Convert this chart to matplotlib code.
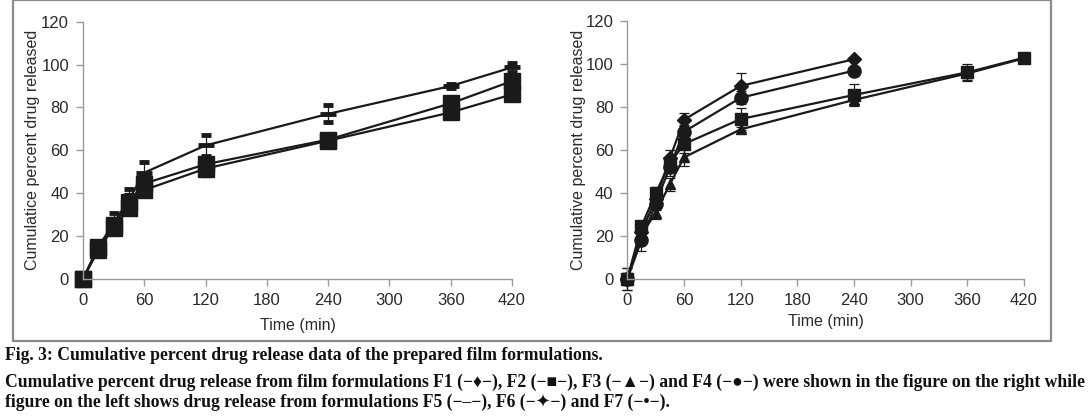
import matplotlib
matplotlib.use("Agg")
import matplotlib.pyplot as plt
from matplotlib.patches import Rectangle

# ---------------- data ----------------
time_left = [0, 15, 30, 45, 60, 120, 240, 360, 420]
f5 = [0, 15, 26, 37, 49.6, 62.3, 77, 90, 98.7]
f5_err = [0, 1, 5, 5, 5, 5, 4, 1, 2]
f6 = [0, 15, 25, 36, 44.5, 53.5, 65, 81.9, 92.3]
f6_err = [0, 1.5, 4, 4, 4, 4, 1, 2, 3]
f7 = [0, 13.5, 24, 33, 41.5, 51.5, 64.5, 77.7, 86.1]
f7_err = [0, 1, 3, 3, 3, 4, 1, 1, 2]

time_short = [0, 15, 30, 45, 60, 120, 240]
time_long = [0, 15, 30, 45, 60, 120, 240, 360, 420]
f1 = [0, 22, 37, 56, 74, 89.7, 102.1]
f1_err = [5, 3, 3, 4, 3, 6, 1]
f4 = [0, 18, 35, 52, 68.4, 84.2, 96.8]
f4_err = [5, 5, 3, 4, 3, 3, 1]
f2 = [0, 24.5, 39.8, 53.7, 62.7, 74.3, 85.5, 96, 102.8]
f2_err = [3, 2, 3, 3, 4, 5, 5, 4, 1]
f3 = [0, 20.5, 30.8, 44, 56.5, 69.5, 83.2, 95.5, 102.5]
f3_err = [3, 3, 3, 3, 4, 1, 2, 3, 1]

x_ticks = [0, 60, 120, 180, 240, 300, 360, 420]
y_ticks = [0, 20, 40, 60, 80, 100, 120]
ylabel_left = "Cumulatice percent drug released"
ylabel_right = "Cumulative percent drug released"
xlabel = "Time (min)"

caption1 = "Fig. 3: Cumulative percent drug release data of the prepared film formulations."
caption2 = ("Cumulative percent drug release from film formulations F1 (\u2212\u2666\u2212), F2 (\u2212\u25a0\u2212), "
            "F3 (\u2212\u25b2\u2212) and F4 (\u2212\u25cf\u2212) were shown in the figure on the right while")
caption3 = ("figure on the left shows drug release from formulations F5 (\u2212\u2013\u2212), "
            "F6 (\u2212\u2726\u2212) and F7 (\u2212\u2022\u2212).")

# ---------------- figure ----------------
W, H = 1088, 416
fig = plt.figure(figsize=(W / 100, H / 100), dpi=100)
plt.rcParams['font.family'] = ['Liberation Sans', 'DejaVu Sans']

LC = "#1a1a1a"
SP = "#9a9a9a"
TC = "#2a2a2a"


def px(x0, y0, x1, y1):
    return [x0 / W, 1 - y1 / H, (x1 - x0) / W, (y1 - y0) / H]


def style(ax, ylabel, ylabel_x, xlabel_y):
    ax.set_xlim(0, 420)
    ax.set_ylim(0, 120)
    ax.set_xticks(x_ticks)
    ax.set_yticks(y_ticks)
    for s in ["top", "right"]:
        ax.spines[s].set_visible(False)
    for s in ["left", "bottom"]:
        ax.spines[s].set_color(SP)
        ax.spines[s].set_linewidth(1.0)
    ax.tick_params(direction="out", length=5, width=1, color=SP,
                   labelsize=12, labelcolor=TC, pad=5)
    ax.set_xlabel(xlabel, fontsize=11.5, color=TC)
    ax.set_ylabel(ylabel, fontsize=11.5, color=TC)
    ax.yaxis.set_label_coords(ylabel_x, 0.5)
    ax.xaxis.set_label_coords(0.5, xlabel_y)


ebkw = dict(color=LC, ecolor=LC, elinewidth=0.9, capsize=3.5, capthick=0.9,
            linewidth=1.6, clip_on=False)

# left panel
axL = fig.add_axes(px(83, 21.7, 512, 279))
axL.errorbar(time_left, f7, yerr=f7_err, marker="s", ms=12, mfc=LC, mec=LC, **ebkw)
axL.errorbar(time_left, f6, yerr=f6_err, marker="s", ms=12, mfc=LC, mec=LC, **ebkw)
axL.errorbar(time_left, f5, yerr=f5_err, marker="_", ms=12, mew=3.5, mfc=LC, mec=LC, **ebkw)
style(axL, ylabel_left, -0.101, -0.152)

# right panel
axR = fig.add_axes(px(627.3, 20.7, 1024, 279))
axR.errorbar(time_long, f3, yerr=f3_err, marker="^", ms=7, mfc=LC, mec=LC, **ebkw)
axR.errorbar(time_long, f2, yerr=f2_err, marker="s", ms=8, mfc=LC, mec=LC, **ebkw)
axR.errorbar(time_short, f4, yerr=f4_err, marker="o", ms=9.5, mfc=LC, mec=LC, **ebkw)
axR.errorbar(time_short, f1, yerr=f1_err, marker="D", ms=7, mfc=LC, mec=LC, **ebkw)
style(axR, ylabel_right, -0.105, -0.135)

# frame
fig.patches.append(Rectangle((13 / W, 1 - 341 / H), (1051 - 13) / W, 341 / H,
                             transform=fig.transFigure, fill=False,
                             edgecolor="#8a8a8a", linewidth=1.6))

# caption
capfam = ['Liberation Serif', 'DejaVu Sans']
t1 = fig.text(5 / W, 1 - 355 / H, caption1, fontsize=11, fontweight="bold",
              family=capfam, va="center", ha="left", color="#111111")
t2 = fig.text(5 / W, 1 - 382 / H, caption2, fontsize=11, fontweight="bold",
              family=capfam, va="center", ha="left", color="#111111")
t3 = fig.text(5 / W, 1 - 402 / H, caption3, fontsize=11, fontweight="bold",
              family=capfam, va="center", ha="left", color="#111111")
r = fig.canvas.get_renderer()
w2 = t2.get_window_extent(r).width
scale = (1083 - 5) / w2
for t in (t1, t2, t3):
    t.set_fontsize(11 * scale)

fig.savefig("out.png", dpi=100)
